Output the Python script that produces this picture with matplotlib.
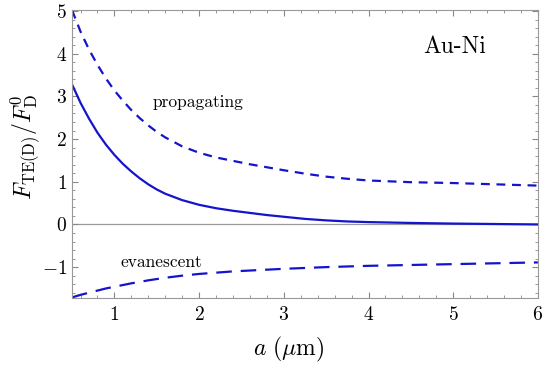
import numpy as np
import matplotlib
matplotlib.use("Agg")
import matplotlib.pyplot as plt
from matplotlib.ticker import MultipleLocator

plt.rcParams['mathtext.fontset'] = 'cm'
plt.rcParams['font.family'] = 'serif'
plt.rcParams['font.serif'] = ['cmr10', 'DejaVu Serif']
plt.rcParams['axes.formatter.use_mathtext'] = True

# separation a (um)
a = [0.5, 0.6, 0.7, 0.8, 0.9, 1.0, 1.1, 1.2, 1.3, 1.4, 1.5, 1.6, 1.8, 2.0, 2.2, 2.4, 2.6, 2.8,
     3.0, 3.25, 3.5, 3.75, 4.0, 4.25, 4.5, 5.0, 5.5, 6.0]
# propagating contribution (short dashes)
prop = [5.02, 4.52, 4.1, 3.74, 3.42, 3.14, 2.9, 2.68, 2.49, 2.32, 2.17, 2.04, 1.83, 1.68, 1.57, 1.49,
        1.41, 1.34, 1.27, 1.19, 1.12, 1.07, 1.03, 1.01, 0.99, 0.97, 0.94, 0.91]
# evanescent contribution (long dashes)
evan = [-1.71, -1.65, -1.6, -1.55, -1.5, -1.46, -1.42, -1.38, -1.345, -1.31, -1.28, -1.25, -1.2,
        -1.16, -1.13, -1.1, -1.08, -1.06, -1.04, -1.02, -1.0, -0.985, -0.97, -0.96, -0.95, -0.93,
        -0.91, -0.89]
# total TE force (solid)
total = [3.28, 2.85, 2.48, 2.15, 1.87, 1.63, 1.42, 1.24, 1.08, 0.94, 0.82, 0.72, 0.57, 0.46, 0.38,
         0.32, 0.27, 0.22, 0.18, 0.13, 0.095, 0.07, 0.055, 0.045, 0.035, 0.02, 0.01, 0.0]

blue = '#1414cc'

fig, ax = plt.subplots(figsize=(5.5, 3.65), dpi=100)
fig.subplots_adjust(left=0.131, right=0.978, bottom=0.184, top=0.972)

ax.axhline(0, color='#999999', lw=0.9, zorder=1)
ax.plot(a, total, color=blue, lw=1.6)
ax.plot(a, prop, color=blue, lw=1.6, dashes=(4, 3))
ax.plot(a, evan, color=blue, lw=1.6, dashes=(7, 4))

ax.set_xlim(0.5, 6)
ax.set_ylim(-1.72, 5.02)
ax.xaxis.set_major_locator(MultipleLocator(1))
ax.xaxis.set_minor_locator(MultipleLocator(0.2))
ax.yaxis.set_major_locator(MultipleLocator(1))
ax.yaxis.set_minor_locator(MultipleLocator(0.2))
ax.tick_params(which='both', direction='in', top=True, right=True, color='#888888')
ax.tick_params(which='major', length=4.5, labelsize=14)
ax.tick_params(axis='x', which='major', pad=6)
ax.tick_params(which='minor', length=2.5)
for s in ax.spines.values():
    s.set_color('#999999')

ax.text(1.45, 2.85, 'propagating', fontsize=12.5, va='center')
ax.text(1.07, -0.89, 'evanescent', fontsize=12.5, va='center')
ax.text(4.65, 4.16, 'Au-Ni', fontsize=17, va='center')

ax.set_xlabel(r'$a\ (\mu\mathrm{m})$', fontsize=17)
ax.xaxis.set_label_coords(0.466, -0.128)
ax.set_ylabel(r'$F_{\mathrm{TE(D)}}/F_{\mathrm{D}}^{0}$', fontsize=17)
ax.yaxis.set_label_coords(-0.062, 0.524)

plt.savefig('out.png')
